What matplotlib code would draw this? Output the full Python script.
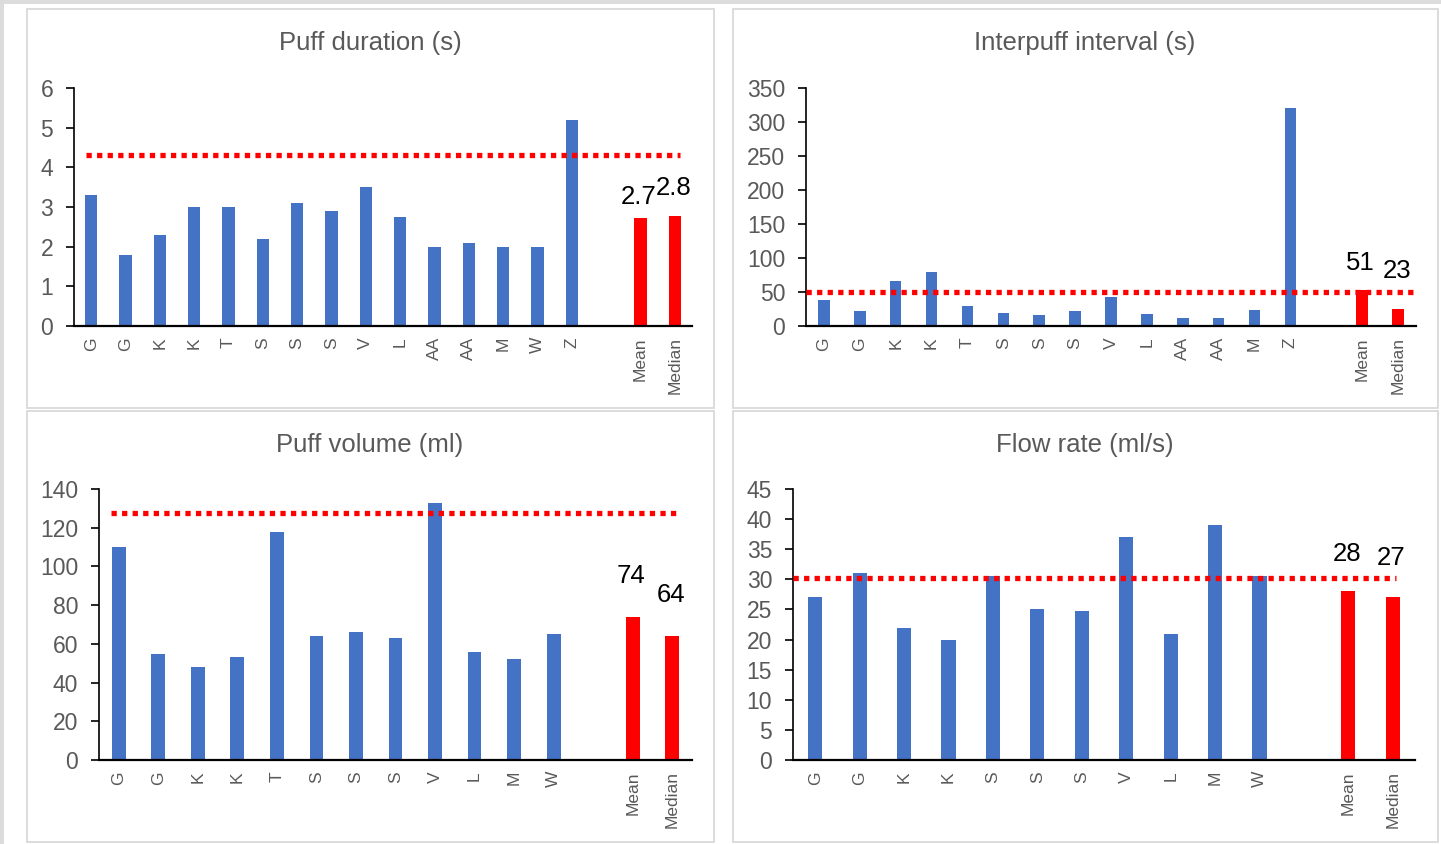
import matplotlib
matplotlib.use("Agg")
import matplotlib.pyplot as plt
from matplotlib.patches import Rectangle

plt.rcParams['font.family'] = ['Liberation Sans', 'DejaVu Sans']

BLUE = '#4472C4'
RED = '#FF0000'
GRAY = '#595959'

# puff duration (s)
dur_names = ['G', 'G', 'K', 'K', 'T', 'S', 'S', 'S', 'V', 'L', 'AA', 'AA', 'M', 'W', 'Z']
dur_vals = [3.3, 1.8, 2.3, 3.0, 3.0, 2.2, 3.1, 2.9, 3.5, 2.75, 2.0, 2.1, 2.0, 2.0, 5.2]
dur_stats = [2.73, 2.78]
dur_stat_labels = ['2.7', '2.8']
dur_ref = 4.3

# interpuff interval (s)
ipi_names = ['G', 'G', 'K', 'K', 'T', 'S', 'S', 'S', 'V', 'L', 'AA', 'AA', 'M', 'Z']
ipi_vals = [38, 22, 66, 79, 30, 19, 16, 22, 43, 17, 12, 12, 23, 320]
ipi_stats = [53, 25]
ipi_stat_labels = ['51', '23']
ipi_ref = 50

# puff volume (ml)
vol_names = ['G', 'G', 'K', 'K', 'T', 'S', 'S', 'S', 'V', 'L', 'M', 'W']
vol_vals = [110, 55, 48, 53, 118, 64, 66, 63, 133, 56, 52, 65]
vol_stats = [74, 64]
vol_stat_labels = ['74', '64']
vol_ref = 127.5

# flow rate (ml/s)
flow_names = ['G', 'G', 'K', 'K', 'S', 'S', 'S', 'V', 'L', 'M', 'W']
flow_vals = [27, 31, 22, 20, 30.5, 25, 24.8, 37, 21, 39, 30.5]
flow_stats = [28, 27]
flow_stat_labels = ['28', '27']
flow_ref = 30.3

stat_names = ['Mean', 'Median']

W, H = 1441, 844
fig = plt.figure(figsize=(W / 100, H / 100), dpi=100)
fig.patch.set_facecolor('white')


def px_box(x0, y0, x1, y1):
    # pixel box (top-left origin) -> figure fraction [l, b, w, h]
    return [x0 / W, 1 - y1 / H, (x1 - x0) / W, (y1 - y0) / H]


# gray outer strips and panel frames
fig.add_artist(Rectangle((0, 1 - 4 / H), 1, 4 / H, transform=fig.transFigure,
                         facecolor='#dcdcdc', edgecolor='none'))
fig.add_artist(Rectangle((0, 0), 4 / W, 1, transform=fig.transFigure,
                         facecolor='#dcdcdc', edgecolor='none'))
for x0, y0, x1, y1 in [(27, 9, 714, 408), (733, 9, 1438, 408),
                       (27, 411, 714, 842), (733, 411, 1438, 842)]:
    l, b, w, h = px_box(x0, y0, x1, y1)
    fig.add_artist(Rectangle((l, b), w, h, transform=fig.transFigure,
                             facecolor='none', edgecolor='#d6d6d6', lw=1.2))


def panel(box, title, title_xy, names, vals, stats, stat_labels, ref,
          ymax, ystep, width, line_span, lab_off):
    ax = fig.add_axes(px_box(*box))
    n = len(names)
    xs = list(range(n))
    sx = [n + 1, n + 2]
    ax.bar(xs, vals, width=width, color=BLUE, zorder=2)
    ax.bar(sx, stats, width=width, color=RED, zorder=2)
    ax.axhline(ref, xmin=line_span[0], xmax=line_span[1], color=RED,
               lw=3.8, linestyle=(0, (1, 1)), zorder=3)
    for x, v, s, off in zip(sx, stats, stat_labels, lab_off):
        ax.annotate(s, (x, v), xytext=(-1, off), textcoords='offset points',
                    ha='center', va='bottom', fontsize=18.5, color='black')
    ax.set_xlim(-0.5, n + 2.5)
    ax.set_ylim(0, ymax)
    ax.set_yticks(range(0, int(ymax) + 1, ystep))
    ax.set_xticks(xs + sx)
    ax.set_xticklabels(names + stat_names, rotation=90, fontsize=12.5, color=GRAY)
    ax.tick_params(axis='x', length=0, pad=8)
    ax.tick_params(axis='y', length=6, width=1.2, direction='out',
                   labelsize=16.5, labelcolor=GRAY, pad=9)
    for s in ['top', 'right']:
        ax.spines[s].set_visible(False)
    ax.spines['left'].set_linewidth(1.2)
    ax.spines['bottom'].set_linewidth(1.6)
    ax.set_facecolor('none')
    fig.text(title_xy[0] / W, 1 - title_xy[1] / H, title, ha='center', va='center',
             fontsize=18.5, color=GRAY)
    return ax


panel((74, 88, 692, 326), 'Puff duration (s)', (370, 43), dur_names, dur_vals,
      dur_stats, dur_stat_labels, dur_ref, 6, 1, 0.36, (0.02, 0.98), (6, 11))
panel((806, 88, 1416, 326), 'Interpuff interval (s)', (1085, 43), ipi_names, ipi_vals,
      ipi_stats, ipi_stat_labels, ipi_ref, 350, 50, 0.32, (0.0, 0.995), (11, 19))
panel((99, 489, 692, 760), 'Puff volume (ml)', (370, 445), vol_names, vol_vals,
      vol_stats, vol_stat_labels, vol_ref, 140, 20, 0.35, (0.02, 0.98), (21, 21))
panel((793, 489, 1415, 760), 'Flow rate (ml/s)', (1085, 445), flow_names, flow_vals,
      flow_stats, flow_stat_labels, flow_ref, 45, 5, 0.32, (0.0, 0.97), (18, 20))

fig.savefig('out.png', dpi=100)
